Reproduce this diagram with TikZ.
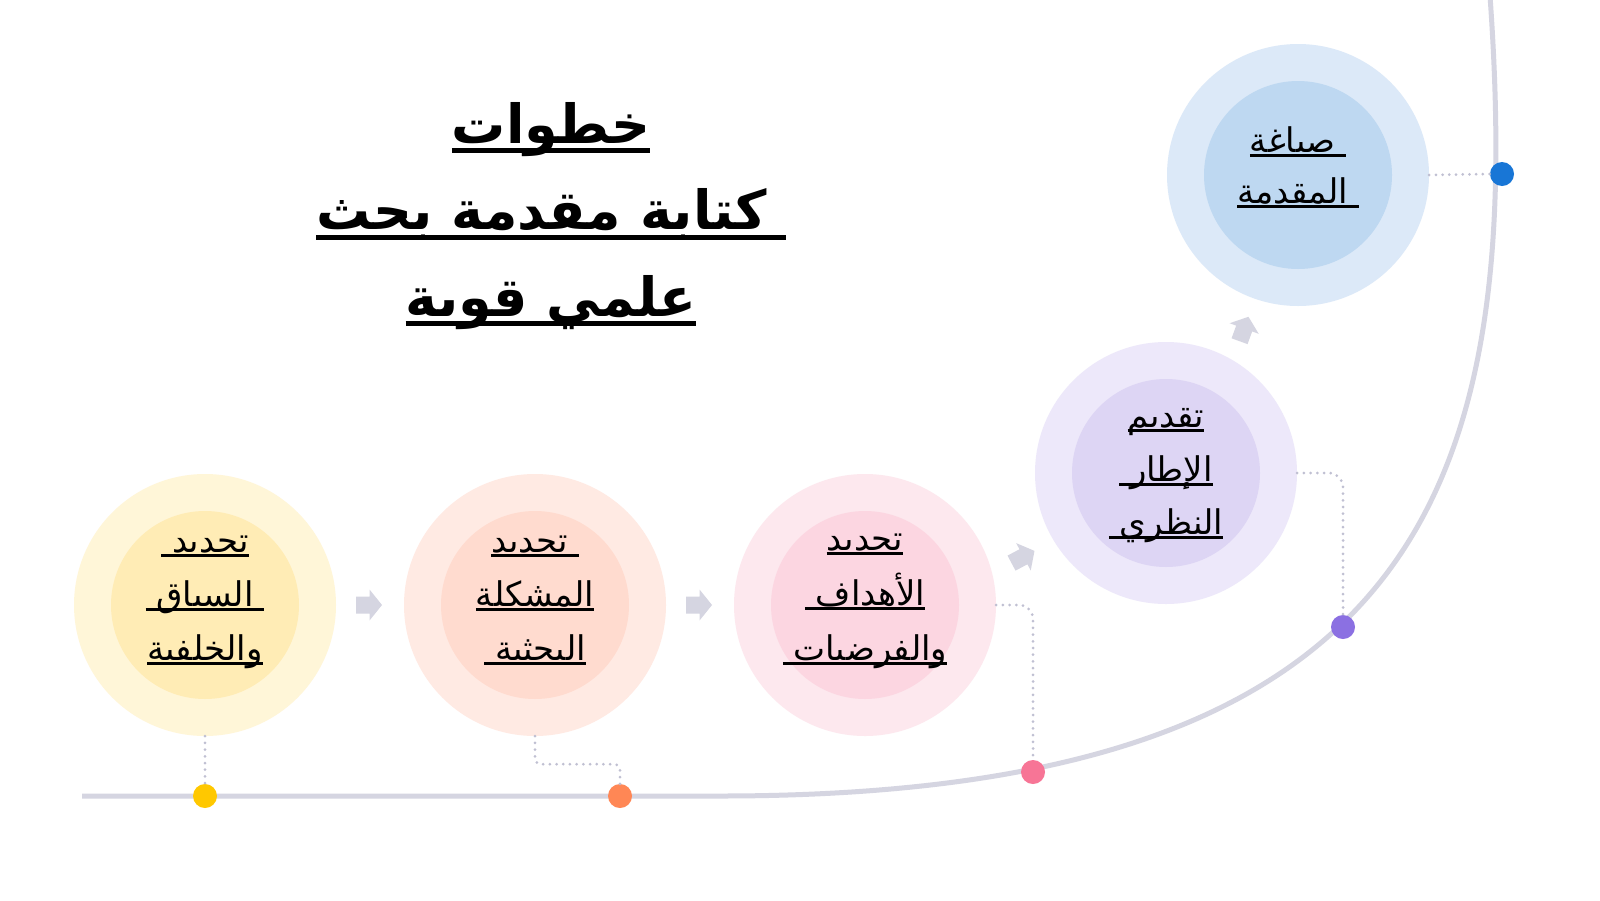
\documentclass[tikz,border=0pt]{standalone}
\usepackage{fontspec}
\TeXXeTstate=1
\newfontfamily\arabicfont[Script=Arabic]{DejaVu Sans}
\definecolor{trackc}{RGB}{213,213,225}
\definecolor{leaderc}{RGB}{192,192,210}
\definecolor{yOut}{RGB}{255,246,216}
\definecolor{yIn}{RGB}{255,236,181}
\definecolor{sOut}{RGB}{255,234,227}
\definecolor{sIn}{RGB}{255,219,207}
\definecolor{pOut}{RGB}{253,232,238}
\definecolor{pIn}{RGB}{252,214,225}
\definecolor{vOut}{RGB}{237,232,250}
\definecolor{vIn}{RGB}{221,213,244}
\definecolor{bOut}{RGB}{220,233,248}
\definecolor{bIn}{RGB}{190,216,241}
\definecolor{yDot}{RGB}{255,200,0}
\definecolor{sDot}{RGB}{255,135,85}
\definecolor{pDot}{RGB}{247,117,150}
\definecolor{vDot}{RGB}{139,112,226}
\definecolor{bDot}{RGB}{24,118,214}
% underlined line: #1 gap below baseline, #2 bottom of rule, #3 text (already in \beginR ... \endR)
\newcommand\arul[3]{\setbox0\hbox{#3}\rlap{\vrule width\wd0 height -#1 depth #2}\box0}
\newcommand\bl[1]{\arul{1.5pt}{4.5pt}{#1}}
\newcommand\tl[1]{\arul{5pt}{10pt}{#1}}
\tikzset{
  outerc/.style={circle, minimum size=262pt, inner sep=0pt, fill=#1},
  innerc/.style={circle, minimum size=188pt, inner sep=0pt, fill=#1},
  stepdot/.style={circle, minimum size=24pt, inner sep=0pt, fill=#1},
  steptext/.style={inner sep=0pt, anchor=base, text=black, font=\arabicfont\fontsize{34}{40}\selectfont},
  titletext/.style={inner sep=0pt, anchor=base, text=black, font=\arabicfont\bfseries\fontsize{54}{60}\selectfont},
  track/.style={draw=trackc, line width=5pt},
  leader/.style={draw=leaderc, line width=3pt, dash pattern=on 0pt off 6.7pt, line cap=round},
  garrow/.style={fill=trackc},
}
\begin{document}
\begin{tikzpicture}[x=1pt, y=-1pt]
\useasboundingbox (0,0) rectangle (1600,900);
\fill[white] (0,0) rectangle (1600,900);
% track
\coordinate (t0) at (82,796);
\coordinate (t1) at (720,796);
\coordinate (t2) at (1490,-4);
\draw[track] (t0) -- (t1) .. controls (1420,796) and (1525,490) .. (t2);
% title
\node[titletext] (ti1) at (551,143) {\tl{\beginR خطوات\endR}};
\node[titletext] (ti2) at (551,229.5) {\tl{\beginR\ كتابة مقدمة بحث\endR}};
\node[titletext] (ti3) at (551,316) {\tl{\beginR علمي قوية\endR}};
% circles
\node[outerc=yOut] (c1) at (205,605) {};
\node[innerc=yIn] (c1i) at (205,605) {};
\node[outerc=sOut] (c2) at (535,605) {};
\node[innerc=sIn] (c2i) at (535,605) {};
\node[outerc=pOut] (c3) at (865,605) {};
\node[innerc=pIn] (c3i) at (865,605) {};
\node[outerc=vOut] (c4) at (1166,473) {};
\node[innerc=vIn] (c4i) at (1166,473) {};
\node[outerc=bOut] (c5) at (1298,175) {};
\node[innerc=bIn] (c5i) at (1298,175) {};
% texts
\node[steptext] (y1) at (205,552) {\bl{\beginR تحديد\ \endR}};
\node[steptext] (y2) at (205,606) {\bl{\beginR\ السياق\ \endR}};
\node[steptext] (y3) at (205,660) {\bl{\beginR والخلفية\endR}};
\node[steptext] (s1) at (535,552) {\bl{\beginR\ تحديد\endR}};
\node[steptext] (s2) at (535,606) {\bl{\beginR المشكلة\endR}};
\node[steptext] (s3) at (535,660) {\bl{\beginR البحثية\ \endR}};
\node[steptext] (p1) at (865,550) {\bl{\beginR تحديد\endR}};
\node[steptext] (p2) at (865,605) {\bl{\beginR الأهداف\ \endR}};
\node[steptext] (p3) at (865,660) {\bl{\beginR والفرضيات\ \endR}};
\node[steptext] (v1) at (1166,427) {\bl{\beginR تقديم\endR}};
\node[steptext] (v2) at (1166,481) {\bl{\beginR الإطار\ \endR}};
\node[steptext] (v3) at (1166,534) {\bl{\beginR النظري\ \endR}};
\node[steptext] (b1) at (1298,152) {\bl{\beginR\ صياغة\endR}};
\node[steptext] (b2) at (1298,203) {\bl{\beginR\ المقدمة\endR}};
% dots
\node[stepdot=yDot] (d1) at (205,796) {};
\node[stepdot=sDot] (d2) at (620,796) {};
\node[stepdot=pDot] (d3) at (1033,772) {};
\node[stepdot=vDot] (d4) at (1343,627) {};
\node[stepdot=bDot] (d5) at (1502,174) {};
% leaders
\draw[leader] (c1.south) -- (d1.north);
\draw[leader, rounded corners=6pt] (c2.south) -- ++(0,28) -| (d2.north);
\draw[leader, rounded corners=14pt] (c3.east) -| (d3.north);
\draw[leader, rounded corners=14pt] (c4.east) -| (d4.north);
\draw[leader] (c5.east) -- (d5.west);
% block arrows
\fill[garrow, shift={(369,605)}] (-13,-8.5) -- (0.5,-8.5) -- (0.5,-15.5) -- (13,0) -- (0.5,15.5) -- (0.5,8.5) -- (-13,8.5) -- cycle;
\fill[garrow, shift={(699,605)}] (-13,-8.5) -- (0.5,-8.5) -- (0.5,-15.5) -- (13,0) -- (0.5,15.5) -- (0.5,8.5) -- (-13,8.5) -- cycle;
\fill[garrow, shift={(1023,557)}, rotate=28] (-13,-8.5) -- (0.5,-8.5) -- (0.5,-15.5) -- (13,0) -- (0.5,15.5) -- (0.5,8.5) -- (-13,8.5) -- cycle;
\fill[garrow, shift={(1244,329)}, rotate=70] (-13,-8.5) -- (0.5,-8.5) -- (0.5,-15.5) -- (13,0) -- (0.5,15.5) -- (0.5,8.5) -- (-13,8.5) -- cycle;
\end{tikzpicture}
\end{document}
